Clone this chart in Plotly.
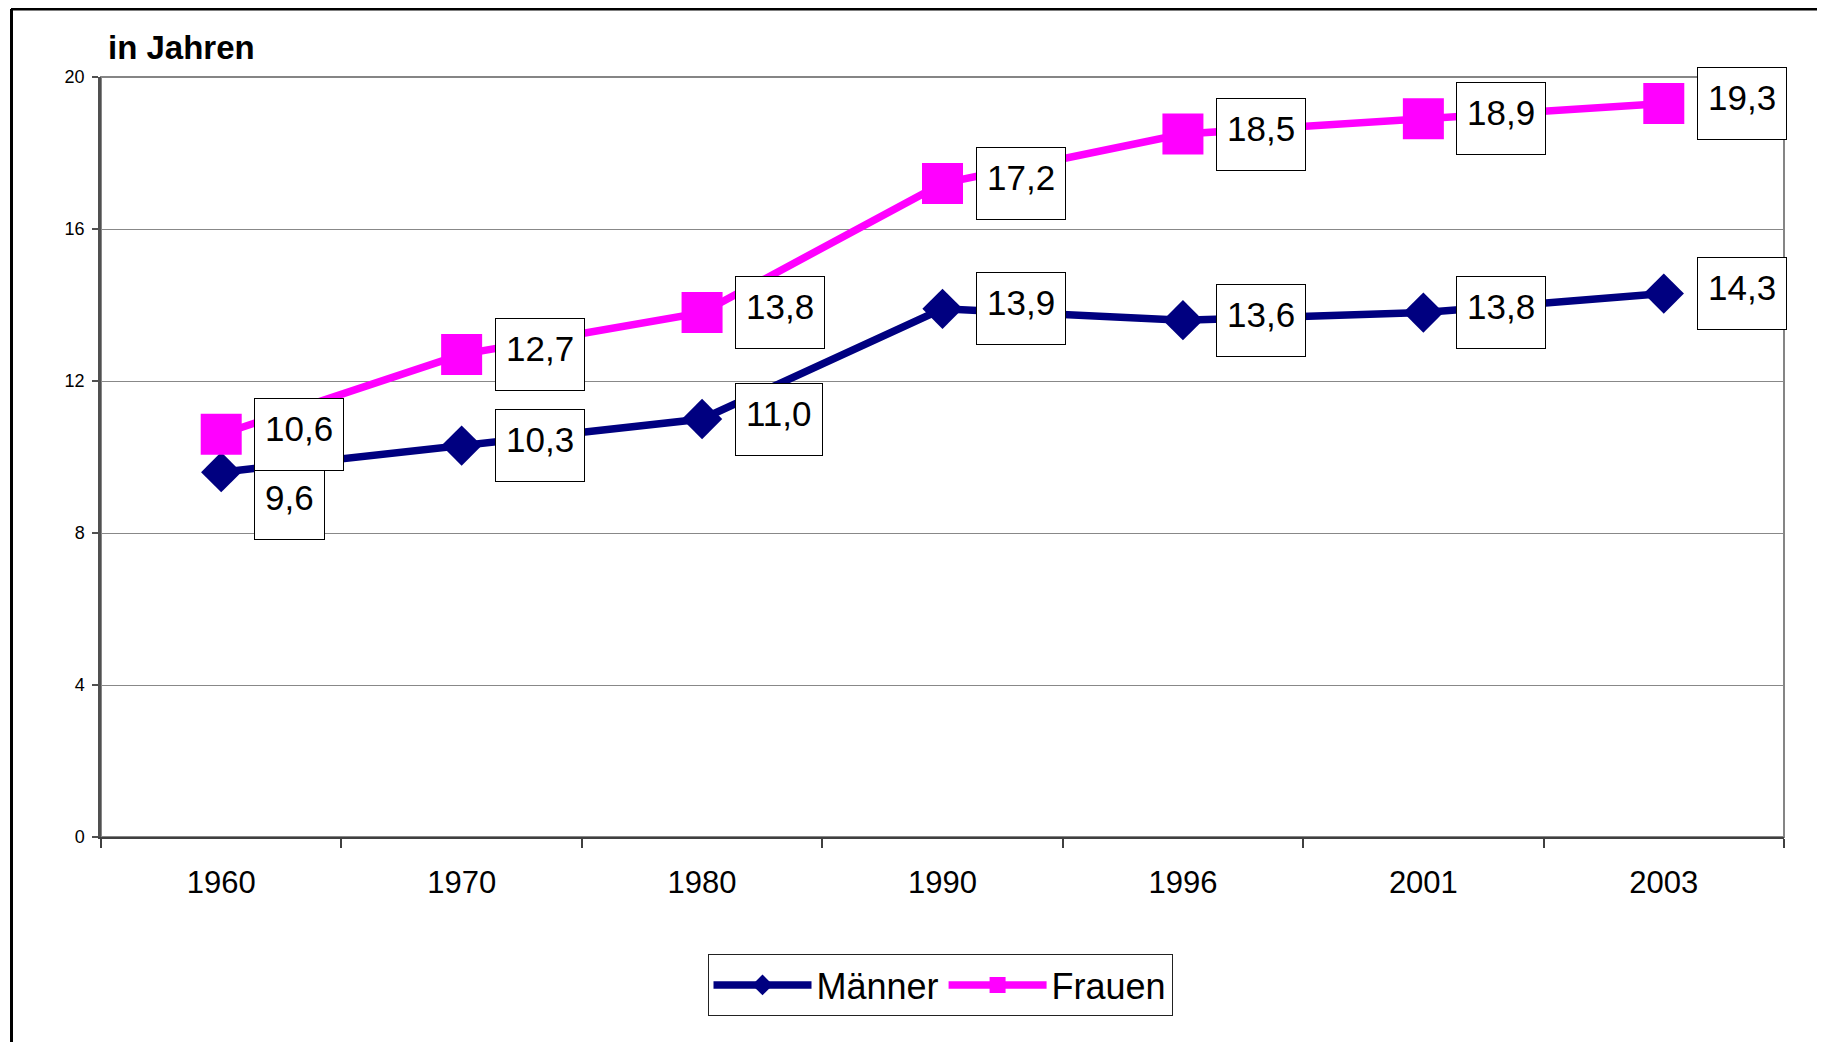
import plotly.graph_objects as go

# ---- data ----
years = ["1960", "1970", "1980", "1990", "1996", "2001", "2003"]
maenner = [9.6, 10.3, 11.0, 13.9, 13.6, 13.8, 14.3]
frauen = [10.6, 12.7, 13.8, 17.2, 18.5, 18.9, 19.3]
y_ticks = [0, 4, 8, 12, 16, 20]
series_names = ["Männer", "Frauen"]

# ---- geometry (window pixels; page body has an 8px margin) ----
OFF = 8
WIN_W, WIN_H = 1825, 1042
W, H = WIN_W - OFF, WIN_H - OFF
PL, PR, PT, PB = 101, 1784, 77, 837  # plot area in window pixels
ML, MR, MT, MB = PL - OFF, WIN_W - PR, PT - OFF, WIN_H - PB
PW, PH = PR - PL, PB - PT


def px(x):
    return (x - PL) / PW


def py(y):
    return (PB - y) / PH


FONT = "Arial, Liberation Sans, sans-serif"
NAVY = "#000080"
MAGENTA = "#FF00FF"

fig = go.Figure()
fig.add_trace(go.Scatter(
    x=years, y=maenner, name=series_names[0], mode="lines+markers",
    line=dict(color=NAVY, width=7.5),
    marker=dict(symbol="diamond", size=31, color=NAVY, line=dict(width=0)),
    cliponaxis=False,
))
fig.add_trace(go.Scatter(
    x=years, y=frauen, name=series_names[1], mode="lines+markers",
    line=dict(color=MAGENTA, width=7.5),
    marker=dict(symbol="square", size=41, color=MAGENTA, line=dict(width=0)),
    cliponaxis=False,
))

annotations = []
for si, vals in enumerate([maenner, frauen]):
    for i, v in enumerate(vals):
        yshift = 0
        # Excel nudged the lowest 1960 label down to avoid overlap
        if si == 0 and i == 0:
            yshift = -31
        annotations.append(dict(
            x=i, y=v, xref="x", yref="y",
            text=f"{v:.1f}".replace(".", ","),
            showarrow=False, xanchor="left", yanchor="middle",
            xshift=33, yshift=yshift,
            font=dict(family=FONT, size=35, color="black"),
            bgcolor="white", bordercolor="black", borderwidth=1,
            borderpad=10, height=51, valign="top",
        ))

annotations.append(dict(
    x=px(106), y=py(48), xref="paper", yref="paper",
    text="<b>in Jahren</b>", showarrow=False,
    xanchor="left", yanchor="middle",
    font=dict(family=FONT, size=33, color="black"),
))

shapes = [
    # plot area border
    dict(type="rect", xref="paper", yref="paper", x0=0, x1=1, y0=0, y1=1,
         line=dict(color="#858585", width=2), layer="below"),
    # outer chart frame (top and left edges visible)
    dict(type="line", xref="paper", yref="paper",
         x0=px(11), x1=px(WIN_W + 5), y0=py(9), y1=py(9),
         line=dict(color="black", width=3)),
    dict(type="line", xref="paper", yref="paper",
         x0=px(11.5), x1=px(11.5), y0=py(9), y1=py(WIN_H + 5),
         line=dict(color="black", width=3)),
]

fig.update_layout(
    width=W, height=H,
    margin=dict(l=ML, r=MR, t=MT, b=MB, pad=0),
    paper_bgcolor="white", plot_bgcolor="white",
    font=dict(family=FONT, color="black"),
    showlegend=True,
    legend=dict(
        orientation="h", x=px(940), xanchor="center", y=py(985), yanchor="middle",
        font=dict(family=FONT, size=36, color="black"),
        bgcolor="white", bordercolor="#222222", borderwidth=1,
        itemwidth=98, tracegroupgap=0,
    ),
    xaxis=dict(
        type="category", range=[-0.5, len(years) - 0.5],
        tickson="boundaries", ticks="outside", ticklen=9, tickwidth=1.5,
        tickcolor="#404040", showline=True, linecolor="#404040", linewidth=2,
        showgrid=False, zeroline=False,
        tickfont=dict(family=FONT, size=31, color="black"),
        ticklabelstandoff=17,
    ),
    yaxis=dict(
        range=[0, 20], tickvals=y_ticks, ticktext=[str(t) for t in y_ticks],
        ticks="outside", ticklen=6, tickwidth=1.5, tickcolor="#505050",
        showline=True, linecolor="#505050", linewidth=2.5,
        showgrid=True, gridcolor="#888888", gridwidth=1.3, zeroline=False,
        tickfont=dict(family=FONT, size=18, color="black"),
        ticklabelstandoff=4,
    ),
    annotations=annotations,
    shapes=shapes,
)

fig.write_html("out.html")
